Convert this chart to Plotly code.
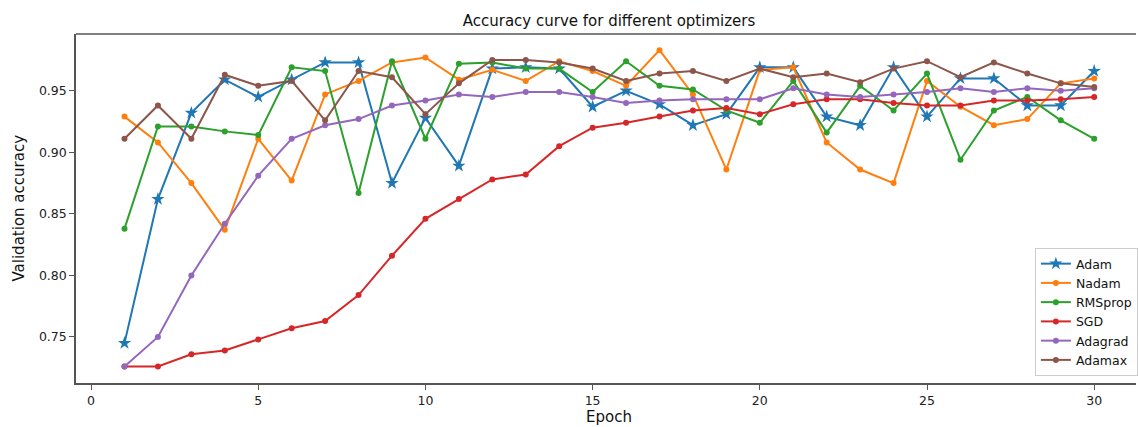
import plotly.graph_objects as go

epochs = list(range(1, 31))

adam = [0.745, 0.862, 0.932, 0.959, 0.945, 0.959, 0.973, 0.973, 0.875, 0.928,
        0.889, 0.968, 0.969, 0.968, 0.937, 0.950, 0.939, 0.922, 0.931, 0.969,
        0.969, 0.929, 0.922, 0.969, 0.929, 0.960, 0.960, 0.938, 0.938, 0.966]
nadam = [0.929, 0.908, 0.875, 0.837, 0.911, 0.877, 0.947, 0.958, 0.973, 0.977,
         0.959, 0.967, 0.958, 0.974, 0.966, 0.954, 0.983, 0.947, 0.886, 0.967,
         0.969, 0.908, 0.886, 0.875, 0.958, 0.937, 0.922, 0.927, 0.956, 0.960]
rmsprop = [0.838, 0.921, 0.921, 0.917, 0.914, 0.969, 0.966, 0.867, 0.974, 0.911,
           0.972, 0.973, 0.968, 0.968, 0.949, 0.974, 0.954, 0.951, 0.934, 0.924,
           0.958, 0.916, 0.954, 0.934, 0.964, 0.894, 0.934, 0.945, 0.926, 0.911]
sgd = [0.726, 0.726, 0.736, 0.739, 0.748, 0.757, 0.763, 0.784, 0.816, 0.846,
       0.862, 0.878, 0.882, 0.905, 0.920, 0.924, 0.929, 0.934, 0.936, 0.931,
       0.939, 0.943, 0.943, 0.940, 0.938, 0.938, 0.942, 0.942, 0.943, 0.945]
adagrad = [0.726, 0.750, 0.800, 0.842, 0.881, 0.911, 0.922, 0.927, 0.938, 0.942,
           0.947, 0.945, 0.949, 0.949, 0.945, 0.940, 0.942, 0.943, 0.943, 0.943,
           0.952, 0.947, 0.945, 0.947, 0.949, 0.952, 0.949, 0.952, 0.950, 0.952]
adamax = [0.911, 0.938, 0.911, 0.963, 0.954, 0.958, 0.926, 0.966, 0.961, 0.931,
          0.956, 0.975, 0.975, 0.973, 0.968, 0.958, 0.964, 0.966, 0.958, 0.968,
          0.961, 0.964, 0.957, 0.968, 0.974, 0.961, 0.973, 0.964, 0.956, 0.953]

series_names = ["Adam", "Nadam", "RMSprop", "SGD", "Adagrad", "Adamax"]
series_values = [adam, nadam, rmsprop, sgd, adagrad, adamax]
colors = ["#1f77b4", "#ff7f0e", "#2ca02c", "#d62728", "#9467bd", "#8c564b"]
symbols = ["star", "circle", "circle", "circle", "circle", "circle"]
sizes = [10, 6, 6, 6, 6, 6]

x_ticks = [0, 5, 10, 15, 20, 25, 30]
y_ticks = [0.75, 0.80, 0.85, 0.90, 0.95]
y_tick_labels = ["0.75", "0.80", "0.85", "0.90", "0.95"]

FONT = "DejaVu Sans"

fig = go.Figure()
for name, vals, col, sym, sz in zip(series_names, series_values, colors, symbols, sizes):
    fig.add_trace(go.Scatter(
        x=epochs, y=vals, name=name, mode="lines+markers",
        line=dict(color=col, width=2),
        marker=dict(color=col, symbol=sym, size=sz, line=dict(width=0)),
    ))

fig.update_layout(
    width=1138, height=427,
    margin=dict(l=76, r=0, t=34, b=44, pad=0),
    paper_bgcolor="white", plot_bgcolor="white",
    font=dict(family=FONT, color="#222", size=13),
    title=dict(text="Accuracy curve for different optimizers",
               font=dict(family=FONT, size=15, color="#111"),
               xref="container", yref="container",
               x=609 / 1138, y=1 - 21 / 427, xanchor="center", yanchor="middle"),
    showlegend=True,
    legend=dict(x=0.9046, y=0.02, xanchor="left", yanchor="bottom",
                bgcolor="white", bordercolor="#cccccc", borderwidth=1,
                font=dict(family=FONT, size=12.5, color="#111"),
                tracegroupgap=0, itemwidth=30),
    xaxis=dict(range=[-0.45, 31.25], tickmode="array", tickvals=x_ticks,
               showgrid=False, zeroline=False, showline=True, linecolor="#555",
               linewidth=1.5, ticks="outside", ticklen=5, tickcolor="#555",
               tickfont=dict(family=FONT, size=12.5, color="#222")),
    yaxis=dict(range=[0.7126, 0.9961], tickmode="array", tickvals=y_ticks,
               ticktext=y_tick_labels,
               showgrid=False, zeroline=False, showline=True, linecolor="#555",
               linewidth=1.5, ticks="outside", ticklen=5, tickcolor="#555",
               tickfont=dict(family=FONT, size=12.5, color="#222")),
    shapes=[dict(type="line", xref="paper", yref="paper", x0=0, x1=1, y0=1, y1=1,
                 line=dict(color="#555", width=1.5))],
    annotations=[
        dict(text="Epoch", xref="paper", yref="paper", x=(610 - 76) / 1062, y=0,
             yshift=-34, xanchor="center", yanchor="middle", showarrow=False,
             font=dict(family=FONT, size=15, color="#111")),
        dict(text="Validation accuracy", xref="paper", yref="paper", x=0, y=0.5,
             xshift=-58, xanchor="center", yanchor="middle", textangle=-90,
             showarrow=False, font=dict(family=FONT, size=15, color="#111")),
    ],
)

fig.write_html("out.html")
